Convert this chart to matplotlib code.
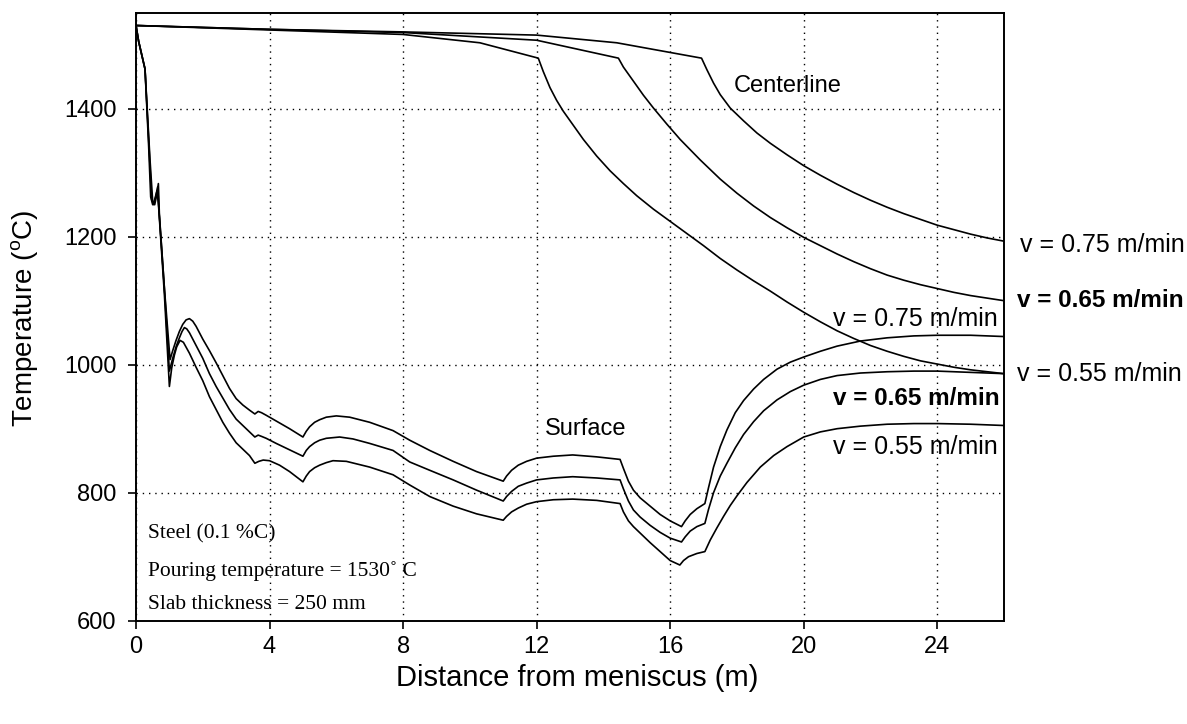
import numpy as np
import matplotlib
matplotlib.use("Agg")
import matplotlib.pyplot as plt

plt.rcParams["font.family"] = ["Liberation Sans", "DejaVu Sans"]
plt.rcParams["mathtext.fontset"] = "custom"
plt.rcParams["mathtext.rm"] = "Liberation Sans"

# surface temperature, casting speed 0.75 m/min
x_s75 = [0, 0.08, 0.27, 0.42, 0.50, 0.56, 0.62, 0.67, 0.70, 0.85, 1.02, 1.1, 1.2, 1.3, 1.4,
         1.5, 1.6, 1.7, 1.8, 2.0, 2.2, 2.4, 2.6, 2.8, 3.0, 3.2, 3.4, 3.56, 3.66, 3.76, 3.9,
         4.2, 4.6, 5.0, 5.1, 5.2, 5.35, 5.5, 5.7, 6.0, 6.4, 7.0, 7.7, 8.2, 8.8, 9.5, 10.2,
         11.0, 11.1, 11.25, 11.45, 11.7, 12.0, 12.5, 13.08, 13.8, 14.5, 14.6, 14.75, 14.9,
         15.1, 15.4, 15.7, 16.0, 16.34, 16.45, 16.6, 16.8, 17.04, 17.15, 17.3, 17.5, 17.7,
         17.95, 18.2, 18.5, 18.8, 19.2, 19.6, 20.0, 20.5, 21.0, 21.7, 22.5, 23.3, 24.0, 25.0, 26.0]
t_s75 = [1530, 1505, 1462, 1320, 1255, 1250, 1265, 1283, 1235, 1120, 1008, 1022, 1038, 1052, 1063,
         1070, 1072, 1068, 1060, 1040, 1022, 1003, 983, 963, 947, 937, 929, 923, 927, 925, 921,
         912, 900, 887, 896, 903, 910, 914, 918, 920, 918, 910, 897, 882, 866, 849, 833,
         818, 826, 835, 843, 849, 854, 857, 859, 856, 852, 838, 818, 804,
         792, 779, 766, 756, 747, 756, 766, 775, 783, 808, 840, 872, 898,
         925, 944, 962, 977, 993, 1004, 1012, 1021, 1029, 1037, 1042, 1045, 1046, 1046, 1044]

# surface temperature, casting speed 0.65 m/min
x_s65 = [0, 0.08, 0.27, 0.40, 0.47, 0.53, 0.59, 0.65, 0.69, 0.85, 1.0, 1.1, 1.2, 1.3, 1.38,
         1.45, 1.52, 1.6, 1.8, 2.0, 2.2, 2.4, 2.6, 2.8, 3.0, 3.2, 3.4, 3.56, 3.66, 3.76, 3.9,
         4.2, 4.6, 5.0, 5.1, 5.2, 5.35, 5.5, 5.7, 6.1, 6.5, 7.0, 7.7, 8.2, 8.8, 9.5, 10.2,
         11.0, 11.1, 11.25, 11.45, 11.7, 12.0, 12.5, 13.08, 13.8, 14.5, 14.6, 14.75, 14.9,
         15.1, 15.4, 15.7, 16.0, 16.34, 16.45, 16.6, 16.8, 17.04, 17.15, 17.3, 17.5, 17.7,
         17.95, 18.2, 18.5, 18.8, 19.2, 19.6, 20.0, 20.5, 21.0, 21.7, 22.5, 23.3, 24.0, 25.0, 26.0]
t_s65 = [1530, 1505, 1462, 1330, 1258, 1250, 1262, 1278, 1240, 1120, 990, 1010, 1028, 1042, 1052,
         1058, 1056, 1050, 1030, 1010, 986, 966, 948, 930, 915, 905, 895, 887, 890, 888, 885,
         877, 867, 857, 866, 872, 878, 882, 885, 887, 884, 877, 866, 848, 835, 820, 804,
         787, 794, 802, 810, 815, 820, 823, 825, 823, 820, 806, 787, 773,
         762, 749, 738, 729, 723, 731, 740, 747, 752, 774, 800, 826, 846,
         870, 891, 911, 928, 945, 958, 968, 977, 983, 987, 989, 990, 990, 988, 986]

# surface temperature, casting speed 0.55 m/min
x_s55 = [0, 0.08, 0.27, 0.38, 0.44, 0.50, 0.56, 0.63, 0.68, 0.85, 1.0, 1.07, 1.15, 1.22, 1.32,
         1.42, 1.6, 1.8, 2.0, 2.2, 2.4, 2.6, 2.8, 3.0, 3.2, 3.4, 3.56, 3.68, 3.81, 4.0, 4.3,
         4.6, 5.0, 5.1, 5.2, 5.35, 5.5, 5.7, 5.9, 6.3, 7.0, 7.7, 8.2, 8.8, 9.5, 10.2,
         11.0, 11.1, 11.25, 11.45, 11.7, 12.0, 12.5, 13.08, 13.8, 14.5, 14.6, 14.75, 14.9,
         15.1, 15.4, 15.7, 16.0, 16.29, 16.4, 16.55, 16.8, 17.04, 17.2, 17.4, 17.6, 17.8,
         18.0, 18.3, 18.7, 19.1, 19.5, 20.0, 20.5, 21.0, 21.7, 22.5, 23.3, 24.0, 25.0, 26.0]
t_s55 = [1530, 1505, 1462, 1340, 1262, 1250, 1258, 1272, 1245, 1110, 966, 995, 1015, 1028, 1038,
         1035, 1018, 996, 975, 950, 930, 910, 893, 878, 868, 858, 846, 849, 851, 850, 843,
         833, 817, 826, 833, 839, 843, 847, 850, 849, 840, 828, 812, 794, 779, 767,
         757, 763, 770, 776, 782, 786, 789, 790, 788, 783, 770, 756, 747,
         737, 722, 708, 694, 687, 694, 700, 705, 708, 726, 745, 763, 780,
         795, 816, 840, 858, 872, 887, 895, 900, 904, 907, 908, 908, 907, 905]

# centerline temperature, casting speed 0.75 m/min
x_c75 = [0, 4, 8, 12, 14.4, 16.94, 17.1, 17.3, 17.5, 17.8, 18.2, 18.6, 19.0, 19.5, 20.0,
         20.5, 21.0, 21.5, 22.0, 22.5, 23.0, 23.5, 24.0, 24.5, 25.0, 25.5, 26.0]
t_c75 = [1530, 1524, 1520, 1515, 1503, 1479, 1461, 1440, 1422, 1401, 1381, 1362, 1346, 1328, 1311,
         1296, 1282, 1269, 1257, 1246, 1236, 1227, 1218, 1211, 1204, 1198, 1193]

# centerline temperature, casting speed 0.65 m/min
x_c65 = [0, 4, 8, 12, 14.45, 14.6, 14.9, 15.2, 15.5, 15.9, 16.3, 16.9, 17.5, 18.0, 18.5,
         19.0, 19.5, 20.0, 20.5, 21.0, 21.5, 22.0, 22.5, 23.0, 23.5, 24.0, 24.5, 25.0, 25.5, 26.0]
t_c65 = [1530, 1524, 1519, 1507, 1479, 1465, 1443, 1421, 1401, 1376, 1352, 1320, 1290, 1268, 1248,
         1230, 1214, 1199, 1186, 1173, 1161, 1150, 1140, 1132, 1125, 1119, 1113, 1108, 1104, 1100]

# centerline temperature, casting speed 0.55 m/min
x_c55 = [0, 4, 8, 10.3, 12.05, 12.2, 12.4, 12.6, 12.8, 13.1, 13.4, 13.8, 14.2, 14.6, 15.0,
         15.5, 16.0, 16.5, 17.0, 17.5, 18.0, 18.5, 19.0, 19.5, 20.0, 20.5, 21.0, 21.5, 22.0,
         22.5, 23.0, 23.5, 24.0, 24.5, 25.0, 25.5, 26.0]
t_c55 = [1530, 1523, 1516, 1503, 1479, 1458, 1433, 1413, 1396, 1374, 1352, 1326, 1303, 1283, 1264,
         1243, 1224, 1205, 1186, 1166, 1148, 1131, 1115, 1098, 1082, 1067, 1053, 1041, 1030,
         1021, 1013, 1006, 1001, 996, 992, 989, 986]

x_ticks = [0, 4, 8, 12, 16, 20, 24]
y_ticks = [600, 800, 1000, 1200, 1400]

fig = plt.figure(figsize=(11.87, 7.24), dpi=100)
ax = fig.add_axes([136 / 1187, 1 - 620.7 / 724, 868 / 1187, 608 / 724])

for xs, ts in [(x_s75, t_s75), (x_s65, t_s65), (x_s55, t_s55),
               (x_c75, t_c75), (x_c65, t_c65), (x_c55, t_c55)]:
    ax.plot(xs, ts, color="black", lw=1.2)

ax.set_xlim(0, 26)
ax.set_ylim(600, 1550)
ax.set_xticks(x_ticks)
ax.set_yticks(y_ticks)
ax.grid(True, color="black", lw=1.0, linestyle=(0, (1, 3.5)))
ax.tick_params(direction="out", length=6, width=1.2, labelsize=17)
ax.tick_params(axis="y", pad=8)
ax.tick_params(axis="x", pad=5)
for sp in ax.spines.values():
    sp.set_linewidth(1.4)

ax.set_xlabel("Distance from meniscus (m)", fontsize=21)
ax.xaxis.set_label_coords(0.508, -0.094)
ax.xaxis.label.set_va("center")
ax.set_ylabel("Temperature ($^{\\mathrm{o}}$C)", fontsize=20)
ax.yaxis.set_label_coords(-0.128, 0.498)
ax.yaxis.label.set_va("center")

ax.text(17.9, 1436, "Centerline", fontsize=17, va="center", ha="left")
ax.text(12.25, 900, "Surface", fontsize=17, va="center", ha="left")

# surface speed labels inside the frame
ax.text(25.8, 1072, "v = 0.75 m/min", fontsize=18, va="center", ha="right")
ax.text(25.88, 947, "v = 0.65 m/min", fontsize=17.5, va="center", ha="right", fontweight="bold")
ax.text(25.8, 872, "v = 0.55 m/min", fontsize=18, va="center", ha="right")

# centerline speed labels outside the frame
ax.text(26.47, 1187, "v = 0.75 m/min", fontsize=18, va="center", ha="left", clip_on=False)
ax.text(26.38, 1100, "v = 0.65 m/min", fontsize=17.5, va="center", ha="left",
        fontweight="bold", clip_on=False)
ax.text(26.38, 986, "v = 0.55 m/min", fontsize=18, va="center", ha="left", clip_on=False)

notes = ["Steel (0.1 %C)", "Pouring temperature = 1530\u02da C", "Slab thickness = 250 mm"]
note_y = [736, 678, 625]
for s, yv in zip(notes, note_y):
    ax.text(0.35, yv, s, fontsize=15.5, va="center", ha="left",
            family=["Liberation Serif", "DejaVu Serif"])

fig.savefig("out.png", dpi=100)
